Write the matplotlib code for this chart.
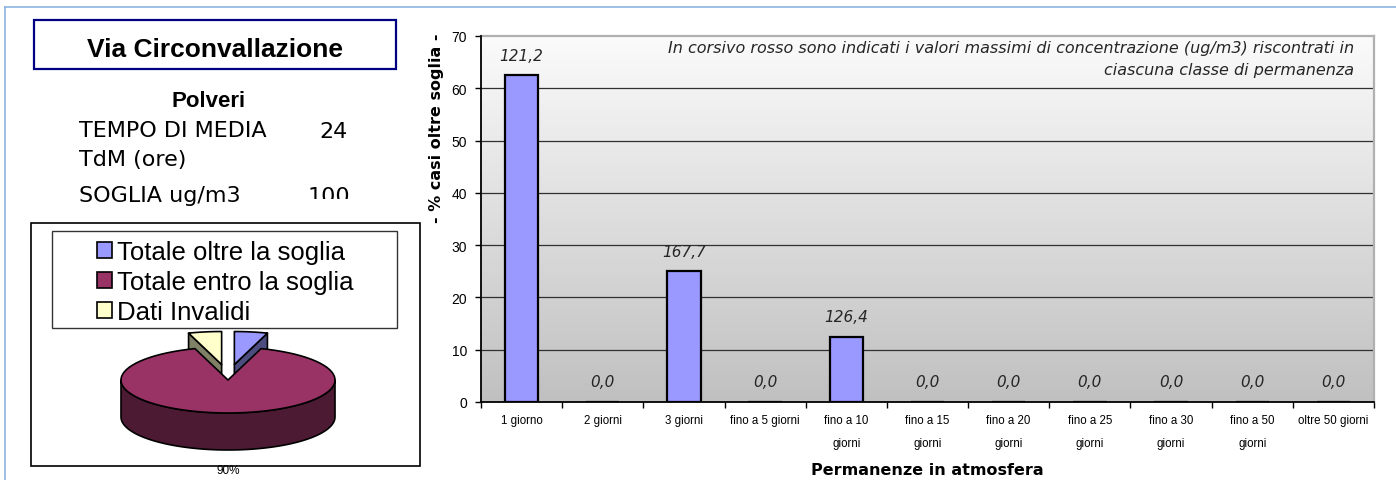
"""Polveri - Via Circonvallazione: permanenze oltre soglia e ripartizione dei dati."""

import matplotlib
matplotlib.use("Agg")
import matplotlib.pyplot as plt
import numpy as np
from matplotlib.patches import Polygon, Rectangle

# classi di permanenza in atmosfera
categories = [
    "1 giorno", "2 giorni", "3 giorni", "fino a 5 giorni",
    "fino a 10\ngiorni", "fino a 15\ngiorni", "fino a 20\ngiorni",
    "fino a 25\ngiorni", "fino a 30\ngiorni", "fino a 50\ngiorni",
    "oltre 50 giorni",
]
# % casi oltre soglia per classe
pct_over = [62.5, 0.0, 25.0, 0.0, 12.5, 0.0, 0.0, 0.0, 0.0, 0.0, 0.0]
# massimi di concentrazione (ug/m3) per classe
max_conc = [121.2, 0.0, 167.7, 0.0, 126.4, 0.0, 0.0, 0.0, 0.0, 0.0, 0.0]
y_ticks = [0, 10, 20, 30, 40, 50, 60, 70]

# torta riassuntiva
pie_labels = ["Totale oltre la soglia", "Totale entro la soglia", "Dati Invalidi"]
pie_values = [5.0, 90.0, 5.0]
pie_explode = [0.38, 0.0, 0.38]
pie_top = ["#9999FF", "#993366", "#FFFFCC"]
pie_side = ["#4D4D80", "#4D1A33", "#808066"]

station = "Via Circonvallazione"
pollutant = "Polveri"
avg_time = 24
threshold = 100

W, H = 1396, 481
fig = plt.figure(figsize=(W / 100, H / 100), dpi=100)

# overlay in pixel coordinates for the left panel
ov = fig.add_axes([0, 0, 1, 1], zorder=0)
ov.set_xlim(0, W)
ov.set_ylim(H, 0)
ov.axis("off")

ov.plot([5, W], [8, 8], color="#8DB4E2", lw=1.2)
ov.plot([5, 5], [8, H], color="#8DB4E2", lw=1.2)

ov.add_patch(Rectangle((34, 21), 362, 49, fill=False, ec="#000080", lw=1.6))
ov.text(215, 57, station, ha="center", va="baseline", fontsize=19,
        fontweight="bold", family="Liberation Sans")
ov.text(209, 107, pollutant, ha="center", va="baseline", fontsize=16,
        fontweight="bold", family="Liberation Sans")
ov.text(79, 137, "TEMPO DI MEDIA", va="baseline", fontsize=16, family="DejaVu Sans")
ov.text(348, 138, str(avg_time), ha="right", va="baseline", fontsize=16,
        family="DejaVu Sans")
ov.text(79, 166, "TdM (ore)", va="baseline", fontsize=16, family="DejaVu Sans")
ov.text(79, 202, "SOGLIA ug/m3", va="baseline", fontsize=16, family="DejaVu Sans")
ov.text(350, 203, str(threshold), ha="right", va="baseline", fontsize=16,
        family="DejaVu Sans", zorder=3)
# the threshold cell is cut off at its lower edge
ov.add_patch(Rectangle((300, 200), 60, 20, fc="white", ec="none", zorder=4))

# 3D pie drawn as projected ellipse
ov.add_patch(Rectangle((31, 224), 389, 243, fill=False, ec="black", lw=1.2))
cx, cy, rx, ry, depth = 228, 381, 107, 33, 37
frac = np.array(pie_values) / sum(pie_values)
edges = 90 - 360 * np.concatenate([[0], np.cumsum(frac)])


def rim(a0, a1, ox, oy, dz=0.0, n=80):
    th = np.radians(np.linspace(a0, a1, n))
    return np.column_stack([cx + ox + rx * np.cos(th), cy + oy - ry * np.sin(th) + dz])


slices = []
for i in range(len(pie_values)):
    lo, hi = sorted((edges[i], edges[i + 1]))
    if lo < 0:
        lo, hi = lo + 360, hi + 360
    mid = np.radians((lo + hi) / 2)
    ox = pie_explode[i] * rx * np.cos(mid)
    oy = -pie_explode[i] * ry * np.sin(mid) * 1.25
    slices.append((np.sin(mid), i, lo, hi, ox, oy))

for _, i, lo, hi, ox, oy in sorted(slices, reverse=True):
    z = 2 + (1 if pie_explode[i] == 0 else 0)
    kw = dict(ec="black", lw=1.2, joinstyle="round", zorder=z)
    # outer wall, front half only
    for base in (-360, 0, 360):
        a0, a1 = max(lo, base + 180), min(hi, base + 360)
        if a1 > a0:
            top = rim(a0, a1, ox, oy)
            bot = rim(a1, a0, ox, oy, depth)
            ov.add_patch(Polygon(np.vstack([top, bot]), fc=pie_side[i], **kw))
    # radial cut faces turned towards the viewer
    for a, normal in ((lo, lo - 90), (hi, hi + 90)):
        if np.sin(np.radians(normal)) < -1e-6:
            p = rim(a, a, ox, oy, n=1)[0]
            apex = (cx + ox, cy + oy)
            face = [apex, p, (p[0], p[1] + depth), (apex[0], apex[1] + depth)]
            ov.add_patch(Polygon(face, fc=pie_side[i], **kw))
    top_face = np.vstack([[(cx + ox, cy + oy)], rim(lo, hi, ox, oy)])
    ov.add_patch(Polygon(top_face, fc=pie_top[i], **kw))

big = int(np.argmax(pie_values))
ov.text(228, 471, f"{pie_values[big]:.0f}%", ha="center", va="center",
        fontsize=8.5, family="Liberation Sans")

# legend of the pie
ov.add_patch(Rectangle((52, 232), 345, 97, fc="white", ec="#333333", lw=1.0, zorder=5))
for k, (lab, col) in enumerate(zip(pie_labels, pie_top)):
    base = 260 + k * 30
    ov.add_patch(Rectangle((97, base - 17), 15, 16, fc=col, ec="black", lw=1.2, zorder=6))
    ov.text(117, base, lab, va="baseline", fontsize=18.5,
            family="Liberation Sans", zorder=6)

# bar chart
ax = fig.add_axes([481 / W, (H - 403) / H, 893 / W, 366 / H], zorder=1)
x = np.arange(len(categories))
grad = np.linspace(0, 1, 256).reshape(-1, 1)
ax.imshow(grad, cmap=matplotlib.colors.LinearSegmentedColormap.from_list(
    "bg", ["#C0C0C0", "#FBFBFB"]), origin="lower", aspect="auto",
    extent=[0, 1, 0, 1], transform=ax.transAxes, zorder=0)

for yt in y_ticks[1:-1]:
    ax.axhline(yt, color="#303030", lw=0.9, zorder=1)

ax.bar(x, pct_over, width=0.41, color="#9999FF", edgecolor="black",
       linewidth=1.6, zorder=2)
for xi, v, m in zip(x, pct_over, max_conc):
    ax.annotate(f"{m:.1f}".replace(".", ","), (xi, v), xytext=(0, 14.5),
                textcoords="offset points", ha="center", va="center",
                fontsize=11, style="italic", color="#262626", family="DejaVu Sans")

ax.set_xlim(-0.5, len(categories) - 0.5)
ax.set_ylim(0, 70)
ax.set_yticks(y_ticks)
ax.set_xticks(x)
ax.set_xticklabels(categories, fontsize=8.3, family="Liberation Sans")
for lbl in ax.get_xticklabels():
    lbl.set_linespacing(2.15)
ax.set_xticks(np.arange(len(categories) + 1) - 0.5, minor=True)
ax.tick_params(axis="x", which="major", length=0, pad=9)
ax.tick_params(axis="x", which="minor", length=4, width=1, direction="out")
ax.tick_params(axis="y", length=4, width=1, direction="out", pad=6, labelsize=10)
for lbl in ax.get_yticklabels():
    lbl.set_family("Liberation Sans")

for side in ("top", "right"):
    ax.spines[side].set_color("#B0B0B0")
    ax.spines[side].set_linewidth(1.6)
for side in ("left", "bottom"):
    ax.spines[side].set_color("black")
    ax.spines[side].set_linewidth(1.3)
    ax.spines[side].set_zorder(3)

ax.text((437 - 481) / 893, (403 - 128) / 366, "- % casi oltre soglia -",
        transform=ax.transAxes, rotation=90, ha="center", va="center",
        fontsize=11.5, fontweight="bold", family="DejaVu Sans")
ax.text(0.5, (403 - 471) / 366, "Permanenze in atmosfera", transform=ax.transAxes,
        ha="center", va="center", fontsize=11.5, fontweight="bold", family="DejaVu Sans")
ax.text((1354 - 481) / 893, (403 - 59.5) / 366,
        "In corsivo rosso sono indicati i valori massimi di concentrazione "
        "(ug/m3) riscontrati in\nciascuna classe di permanenza",
        transform=ax.transAxes, ha="right", va="center", multialignment="right",
        fontsize=11.5, style="italic", linespacing=1.55, color="#262626",
        family="DejaVu Sans", zorder=4)

fig.savefig("out.png", dpi=100)
